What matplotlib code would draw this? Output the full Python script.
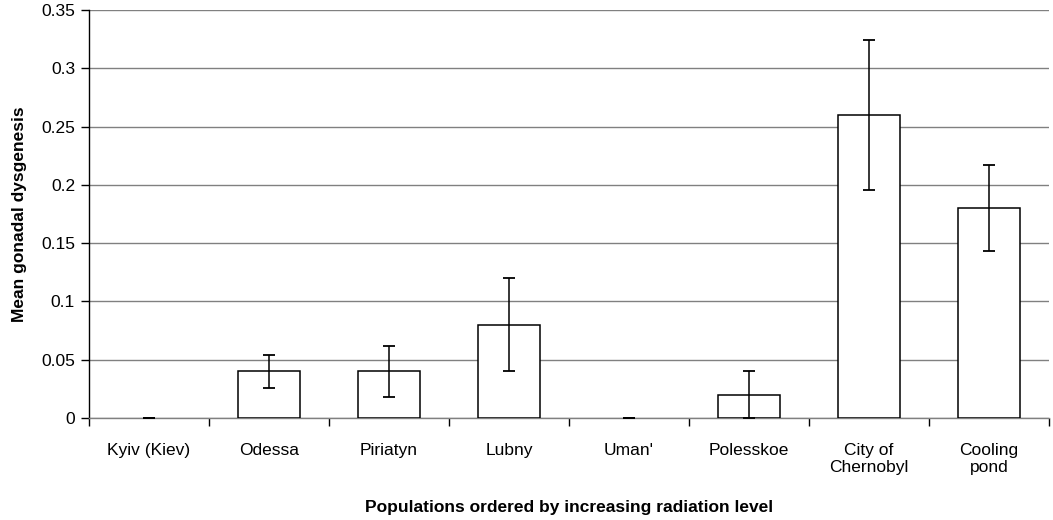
import matplotlib
matplotlib.use("Agg")
import matplotlib.pyplot as plt
import numpy as np

categories = ["Kyiv (Kiev)", "Odessa", "Piriatyn", "Lubny", "Uman'", "Polesskoe",
              "City of\nChernobyl", "Cooling\npond"]
means = [0.0, 0.04, 0.04, 0.08, 0.0, 0.02, 0.26, 0.18]
errors = [0.0, 0.014, 0.022, 0.04, 0.0, 0.02, 0.064, 0.037]
yticks = [0, 0.05, 0.1, 0.15, 0.2, 0.25, 0.3, 0.35]
ytick_labels = ["0", "0.05", "0.1", "0.15", "0.2", "0.25", "0.3", "0.35"]

plt.rcParams['font.family'] = ['Liberation Sans', 'DejaVu Sans']

fig = plt.figure(figsize=(10.53, 5.2), dpi=100)
ax = fig.add_axes([89/1053, 1-418/520, 960/1053, 408/520])

x = np.arange(len(categories))
bars = ax.bar(x, means, width=0.51, color='white', edgecolor='black', linewidth=1.1, zorder=3)
for b, m in zip(bars, means):
    if m == 0:
        b.set_linewidth(0)
ax.errorbar(x, means, yerr=errors, fmt='none', ecolor='black', elinewidth=1.1,
            capsize=4.3, capthick=1.3, zorder=4)

ax.set_xlim(-0.5, len(categories) - 0.5)
ax.set_ylim(0, 0.35)
ax.set_yticks(yticks)
ax.set_yticklabels(ytick_labels, fontsize=12.5)
ax.yaxis.grid(True, color='#808080', linewidth=1.0, zorder=0)
ax.set_axisbelow(True)

ax.set_xticks(x)
ax.set_xticklabels(categories, fontsize=12.5, linespacing=1.15)
ax.tick_params(axis='x', which='major', length=0, pad=18)
ax.set_xticks(np.arange(-0.5, len(categories) + 0.5, 1), minor=True)
ax.tick_params(axis='x', which='minor', length=6, width=1.0, color='black', direction='out')
ax.tick_params(axis='y', length=6, width=1.0, direction='out', pad=4)

for s in ['top', 'right']:
    ax.spines[s].set_visible(False)
ax.spines['left'].set_color('black')
ax.spines['left'].set_linewidth(1.0)
ax.spines['bottom'].set_color('#808080')
ax.spines['bottom'].set_linewidth(1.0)

ax.set_ylabel("Mean gonadal dysgenesis", fontsize=12.5, fontweight='bold', labelpad=10)
ax.set_xlabel("Populations ordered by increasing radiation level", fontsize=12.5,
              fontweight='bold', labelpad=18)

fig.savefig("out.png", dpi=100)
